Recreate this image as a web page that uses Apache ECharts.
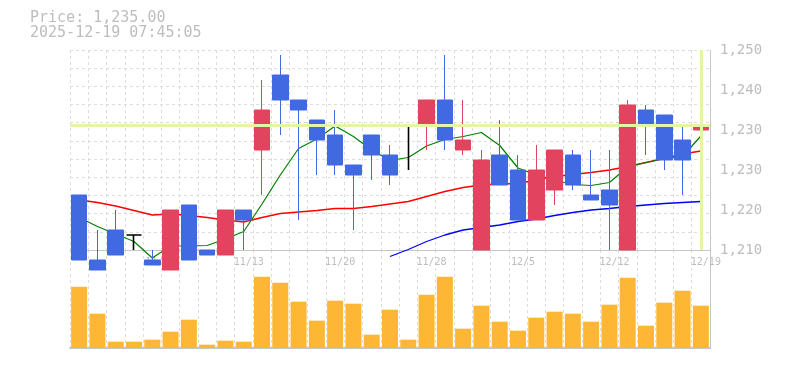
<!DOCTYPE html>
<html><head><meta charset="utf-8">
<script src="https://cdn.jsdelivr.net/npm/echarts@6/dist/echarts.min.js"></script>
<style>html,body{margin:0;padding:0;background:#fff}#c{width:785px;height:370px}</style>
</head><body><div id="c"></div>
<script>
const dates = ['10/30','10/31','11/4','11/5','11/6','11/7','11/10','11/11','11/12','11/13','11/14','11/17','11/18','11/19','11/20','11/21','11/25','11/26','11/27','11/28','12/1','12/2','12/3','12/4','12/5','12/8','12/9','12/10','12/11','12/12','12/15','12/16','12/17','12/18','12/19'];
const openP  = [1221,1208,1214,1213,1208,1206,1219,1210,1209,1218,1230,1245,1240,1236,1233,1227,1233,1229,1235,1235,1240,1230,1210,1229,1226,1216,1222,1229,1221,1222,1210,1238,1237,1232,1234];
const closeP = [1208,1206,1209,1213,1207,1218,1208,1209,1218,1216,1238,1240,1238,1232,1227,1225,1229,1225,1235,1240,1232,1232,1228,1223,1216,1226,1230,1223,1220,1219,1239,1235,1228,1228,1235];
const lowP   = [1208,1206,1209,1210,1207,1206,1208,1209,1209,1210,1221,1233,1216,1225,1225,1214,1224,1223,1226,1230,1230,1229,1210,1223,1216,1216,1219,1222,1220,1210,1210,1229,1226,1221,1229];
const highP  = [1221,1214,1218,1213,1210,1218,1219,1210,1218,1218,1244,1249,1240,1236,1238,1227,1233,1231,1235,1240,1249,1240,1230,1236,1229,1231,1230,1230,1230,1230,1240,1239,1237,1235,1236];
const volume = [184,103,19,19,25,49,85,10,22,19,214,196,139,82,142,133,40,115,25,160,214,58,127,79,52,91,109,103,79,130,211,67,136,172,127];
const ma5  = [1216.5,1214.7,1213.2,1211.7,1208.4,1210.8,1210.8,1210.9,1212.2,1213.7,1219.2,1225.0,1230.3,1232.2,1234.8,1232.7,1230.0,1227.9,1228.5,1230.8,1232.1,1232.7,1233.5,1230.9,1226.4,1225.0,1224.0,1223.1,1222.9,1223.5,1226.6,1227.5,1228.3,1228.7,1232.8];
const ma25 = [1220.0,1219.5,1218.8,1217.9,1217.0,1217.2,1216.9,1216.5,1216.0,1215.6,1216.5,1217.3,1217.6,1217.9,1218.3,1218.3,1218.7,1219.2,1219.7,1220.7,1221.7,1222.5,1223.0,1223.2,1223.3,1224.0,1224.7,1225.1,1225.5,1226.0,1226.7,1227.5,1228.3,1229.2,1229.8];
const ma75 = [null,null,null,null,null,null,null,null,null,null,null,null,null,null,null,null,null,1208.7,1210.1,1211.7,1213.0,1214.0,1214.5,1215.0,1215.7,1216.2,1216.9,1217.5,1218.0,1218.3,1218.7,1219.0,1219.3,1219.5,1219.7];
const yTickLabels = ['1,210','1,220','1,230','1,230','1,240','1,250'];
const timestamp = '2025-12-19 07:45:05';

const FONT = '"DejaVu Sans Mono", monospace';
const UP = '#e2435f', DOWN = '#4169e1', DOJI = '#000000';
const GRIDC = '#dddddd', AXISC = '#c6c6c6', TXT = '#bdbdbd';
const lastIdx = dates.length - 1;
const lastClose = closeP[lastIdx];
const fmtPrice = v => v.toLocaleString('en-US', {minimumFractionDigits:2, maximumFractionDigits:2});

const candleData = dates.map((d, i) => {
  const it = {value: [openP[i], closeP[i], lowP[i], highP[i]]};
  if (openP[i] === closeP[i]) it.itemStyle = {color: DOJI, color0: DOJI, borderColor: DOJI, borderColor0: DOJI, borderWidth: 1.6};
  return it;
});

const chart = echarts.init(document.getElementById('c'), null, {renderer: 'canvas'});
chart.setOption({
  animation: false,
  backgroundColor: '#ffffff',
  graphic: [
    {type: 'text', x: 30, y: 18, style: {text: 'Price: ' + fmtPrice(lastClose), font: '15px ' + FONT, fill: TXT, verticalAlign: 'middle'}},
    {type: 'text', x: 30, y: 33, style: {text: timestamp, font: '15px ' + FONT, fill: TXT, verticalAlign: 'middle'}}
  ],
  grid: [
    {left: 70, right: 75, top: 50, height: 200},
    {left: 70, right: 75, top: 250, height: 98}
  ],
  xAxis: [
    {type: 'category', gridIndex: 0, data: dates, boundaryGap: true,
     axisLine: {lineStyle: {color: AXISC, width: 1}}, axisTick: {show: false},
     axisLabel: {interval: (i) => i % 5 === 4, color: TXT, fontFamily: FONT, fontSize: 10, margin: 7, padding: [0, 0, 0, 10]},
     splitLine: {show: true, interval: 0, lineStyle: {color: GRIDC, type: [3, 3]}}},
    {type: 'category', gridIndex: 1, data: dates, boundaryGap: true,
     axisLine: {lineStyle: {color: AXISC, width: 2}}, axisTick: {show: false}, axisLabel: {show: false},
     splitLine: {show: true, interval: 0, lineStyle: {color: GRIDC, type: [3, 3]}}}
  ],
  yAxis: [
    {type: 'value', gridIndex: 0, position: 'right', min: 1210, max: 1250, interval: 8,
     axisLine: {show: true, lineStyle: {color: AXISC}}, axisTick: {show: false}, splitLine: {show: false},
     axisLabel: {formatter: v => yTickLabels[Math.round((v - 1210) / 8)], color: TXT, fontFamily: FONT, fontSize: 14, margin: 10, padding: [7, 0, 0, 0]}},
    {type: 'value', gridIndex: 0, position: 'left', min: 0, max: 11, interval: 1,
     axisLine: {show: false}, axisTick: {show: false}, axisLabel: {show: false},
     splitLine: {show: true, lineStyle: {color: GRIDC, type: [3, 3]}}},
    {type: 'value', gridIndex: 1, position: 'right', min: 0, max: 294,
     axisLine: {show: true, lineStyle: {color: AXISC}}, axisTick: {show: false}, axisLabel: {show: false}, splitLine: {show: false}}
  ],
  series: [
    {type: 'line', name: 'cross', xAxisIndex: 0, yAxisIndex: 0, data: closeP, showSymbol: false, lineStyle: {opacity: 0}, z: 1, silent: true,
     markLine: {symbol: 'none', silent: true, label: {show: false}, lineStyle: {color: '#e4f5a6', width: 3, type: 'solid'},
       data: [{yAxis: lastClose}, {xAxis: dates[lastIdx]}]}},
    {type: 'line', name: 'MA25', xAxisIndex: 0, yAxisIndex: 0, data: ma25, showSymbol: false, clip: false, z: 2,
     lineStyle: {color: '#ff0000', width: 1.3}},
    {type: 'line', name: 'MA75', xAxisIndex: 0, yAxisIndex: 0, data: ma75, showSymbol: false, clip: false, z: 2,
     lineStyle: {color: '#0000ff', width: 1.3}},
    {type: 'line', name: 'MA5', xAxisIndex: 0, yAxisIndex: 0, data: ma5, showSymbol: false, clip: false, z: 2,
     lineStyle: {color: '#008000', width: 1.2}},
    {type: 'candlestick', xAxisIndex: 0, yAxisIndex: 0, data: candleData, barWidth: 16, clip: false, z: 3,
     itemStyle: {color: UP, color0: DOWN, borderColor: UP, borderColor0: DOWN, borderWidth: 1}},
    {type: 'bar', xAxisIndex: 1, yAxisIndex: 2, data: volume, barWidth: 16, itemStyle: {color: '#fdb735'}}
  ]
});
</script></body></html>
